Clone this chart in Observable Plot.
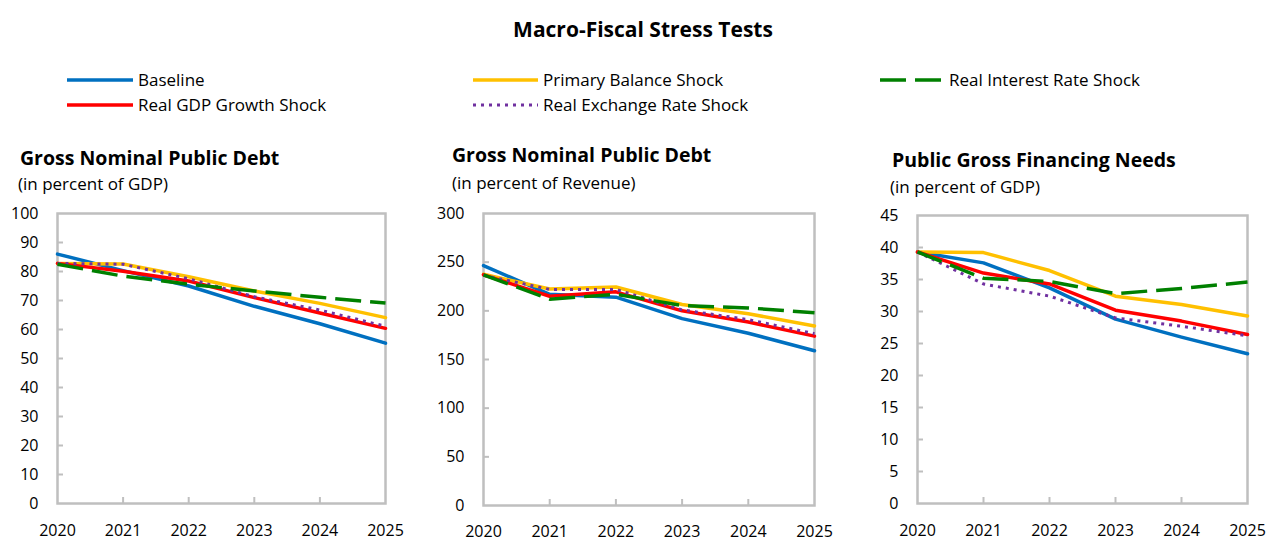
<!DOCTYPE html>
<html>
<head>
<meta charset="utf-8">
<script src="https://cdn.jsdelivr.net/npm/d3@7"></script>
<script src="https://cdn.jsdelivr.net/npm/@observablehq/plot@0.6"></script>
<style>
  html, body { margin: 0; padding: 0; background: #fff; }
  body { width: 1268px; height: 540px; position: relative; overflow: hidden; font-family: "Open Sans", "Noto Sans", sans-serif; color: #000; }
  .abs { position: absolute; white-space: nowrap; }
  #title { left: 18px; width: 1250px; top: 14px; text-align: center; font-weight: 700; font-size: 21px; line-height: 30px; }
  .leg { font-size: 17px; line-height: 22px; }
  .ptitle { font-weight: 700; font-size: 19.5px; line-height: 26px; }
  .psub { font-size: 17px; line-height: 22px; }
  .chart svg { font-family: "Open Sans", "Noto Sans", sans-serif; }
</style>
</head>
<body>
<div id="title" class="abs">Macro-Fiscal Stress Tests</div>
<div id="legend"></div>
<div id="panels"></div>
<script>
// ---------- data ----------
const years = [2020, 2021, 2022, 2023, 2024, 2025];
const seriesNames = ["Baseline", "Primary Balance Shock", "Real GDP Growth Shock", "Real Exchange Rate Shock", "Real Interest Rate Shock"];
const seriesColors = ["#0070C0", "#FFC000", "#FF0000", "#7030A0", "#008000"];

// Panel 1: Gross Nominal Public Debt (in percent of GDP)
const debtGdpBaseline = [86.0, 80.3, 75.0, 68.0, 62.0, 55.3];
const debtGdpPrimary  = [82.8, 82.6, 78.2, 73.3, 69.0, 64.1];
const debtGdpGrowth   = [82.8, 80.1, 76.7, 71.0, 65.7, 60.4];
const debtGdpExchange = [82.8, 82.5, 77.5, 71.3, 66.7, 61.1];
const debtGdpInterest = [82.5, 78.4, 75.6, 73.3, 71.1, 69.1];
const debtGdpTicks = [0, 10, 20, 30, 40, 50, 60, 70, 80, 90, 100];

// Panel 2: Gross Nominal Public Debt (in percent of Revenue)
const debtRevBaseline = [246.5, 217.0, 214.0, 192.0, 177.0, 159.0];
const debtRevPrimary  = [237.5, 222.5, 224.5, 206.5, 197.0, 184.5];
const debtRevGrowth   = [237.0, 215.0, 219.5, 200.0, 188.5, 174.0];
const debtRevExchange = [236.5, 222.0, 222.0, 201.0, 191.0, 176.5];
const debtRevInterest = [237.0, 212.0, 217.0, 205.5, 203.0, 198.0];
const debtRevTicks = [0, 50, 100, 150, 200, 250, 300];

// Panel 3: Public Gross Financing Needs (in percent of GDP)
const gfnBaseline = [39.3, 37.6, 33.7, 28.8, 26.0, 23.4];
const gfnPrimary  = [39.3, 39.2, 36.4, 32.4, 31.1, 29.3];
const gfnGrowth   = [39.3, 36.0, 34.3, 30.2, 28.5, 26.4];
const gfnExchange = [39.3, 34.3, 32.4, 29.0, 27.7, 26.2];
const gfnInterest = [39.3, 35.2, 34.7, 32.8, 33.6, 34.6];
const gfnTicks = [0, 5, 10, 15, 20, 25, 30, 35, 40, 45];

const panelTitles = ["Gross Nominal Public Debt", "Gross Nominal Public Debt", "Public Gross Financing Needs"];
const panelSubtitles = ["(in percent of GDP)", "(in percent of Revenue)", "(in percent of GDP)"];

// ---------- styles ----------
const lineStyles = [
  {stroke: seriesColors[0], strokeWidth: 3.5},
  {stroke: seriesColors[1], strokeWidth: 3.5},
  {stroke: seriesColors[2], strokeWidth: 3.5},
  {stroke: seriesColors[3], strokeWidth: 3, strokeDasharray: "3,5"},
  {stroke: seriesColors[4], strokeWidth: 3.5, strokeDasharray: "26,9"}
];
const frameColor = "#BFBFBF";

// ---------- legend ----------
const legendItems = [
  {i: 0, sx: 67, tx: 138, cy: 80},
  {i: 2, sx: 67, tx: 138, cy: 105},
  {i: 1, sx: 473, tx: 543, cy: 80},
  {i: 3, sx: 473, tx: 543, cy: 105},
  {i: 4, sx: 880, tx: 949, cy: 80}
];
const legend = document.getElementById("legend");
for (const it of legendItems) {
  const st = lineStyles[it.i];
  const sw = document.createElementNS("http://www.w3.org/2000/svg", "svg");
  sw.setAttribute("width", 70); sw.setAttribute("height", 10);
  sw.style.position = "absolute"; sw.style.left = it.sx + "px"; sw.style.top = (it.cy - 5) + "px";
  const ln = document.createElementNS("http://www.w3.org/2000/svg", "line");
  ln.setAttribute("x1", 0); ln.setAttribute("x2", it.tx - it.sx - 5);
  ln.setAttribute("y1", 5); ln.setAttribute("y2", 5);
  ln.setAttribute("stroke", st.stroke);
  ln.setAttribute("stroke-width", st.strokeWidth);
  if (st.strokeDasharray) ln.setAttribute("stroke-dasharray", st.strokeDasharray);
  sw.appendChild(ln);
  legend.appendChild(sw);
  const t = document.createElement("div");
  t.className = "abs leg";
  t.style.left = it.tx + "px"; t.style.top = (it.cy - 11) + "px";
  t.textContent = seriesNames[it.i];
  legend.appendChild(t);
}

// ---------- panels ----------
const panels = [
  {series: [debtGdpBaseline, debtGdpPrimary, debtGdpGrowth, debtGdpExchange, debtGdpInterest], ticks: debtGdpTicks,
   left: 0, width: 420, mL: 57, mR: 35, mT: 13, mB: 37, xPad: 21,
   tx: 20, tcy: 158, sx: 18, scy: 184},
  {series: [debtRevBaseline, debtRevPrimary, debtRevGrowth, debtRevExchange, debtRevInterest], ticks: debtRevTicks,
   left: 420, width: 430, mL: 63, mR: 36, mT: 13, mB: 35, xPad: 20,
   tx: 452, tcy: 155, sx: 452, scy: 183},
  {series: [gfnBaseline, gfnPrimary, gfnGrowth, gfnExchange, gfnInterest], ticks: gfnTicks,
   left: 850, width: 418, mL: 67, mR: 21, mT: 15, mB: 37, xPad: 21,
   tx: 892, tcy: 160, sx: 890, scy: 187}
];
const H = 340, TOP = 200;
const container = document.getElementById("panels");

panels.forEach((p, k) => {
  const tt = document.createElement("div");
  tt.className = "abs ptitle"; tt.style.left = p.tx + "px"; tt.style.top = (p.tcy - 13) + "px";
  tt.textContent = panelTitles[k];
  container.appendChild(tt);
  const st = document.createElement("div");
  st.className = "abs psub"; st.style.left = p.sx + "px"; st.style.top = (p.scy - 11) + "px";
  st.textContent = panelSubtitles[k];
  container.appendChild(st);

  const plotW = p.width - p.mL - p.mR;
  const plotH = H - p.mT - p.mB;
  const marks = [];
  marks.push(Plot.frame({stroke: frameColor, strokeWidth: 2.5}));
  marks.push(Plot.tickX(years.slice(1, -1), {x: d => d, stroke: frameColor, strokeWidth: 2, insetTop: plotH - 6}));
  marks.push(Plot.tickY(p.ticks.slice(1, -1), {y: d => d, stroke: frameColor, strokeWidth: 2, insetRight: plotW - 6}));
  marks.push(Plot.axisX(years, {tickSize: 0, tickPadding: p.xPad, tickFormat: d => String(d), fontSize: 16, fill: "#000", label: null}));
  marks.push(Plot.axisY(p.ticks, {tickSize: 0, tickPadding: 19, fontSize: 16, fill: "#000", label: null}));
  p.series.forEach((vals, i) => {
    const data = years.map((y, j) => ({year: y, value: vals[j]}));
    marks.push(Plot.line(data, {x: "year", y: "value", ...lineStyles[i], strokeLinejoin: "round", strokeLinecap: lineStyles[i].strokeDasharray ? "butt" : "round"}));
  });
  const svg = Plot.plot({
    width: p.width, height: H,
    marginLeft: p.mL, marginRight: p.mR, marginTop: p.mT, marginBottom: p.mB,
    x: {type: "linear", domain: [2020, 2025], label: null},
    y: {domain: [p.ticks[0], p.ticks[p.ticks.length - 1]], label: null},
    style: {fontSize: "16px", fontFamily: "'Open Sans', 'Noto Sans', sans-serif", background: "transparent", overflow: "visible"},
    marks
  });
  const wrap = document.createElement("div");
  wrap.className = "abs chart";
  wrap.style.left = p.left + "px"; wrap.style.top = TOP + "px";
  wrap.appendChild(svg);
  container.appendChild(wrap);
});
</script>
</body>
</html>
